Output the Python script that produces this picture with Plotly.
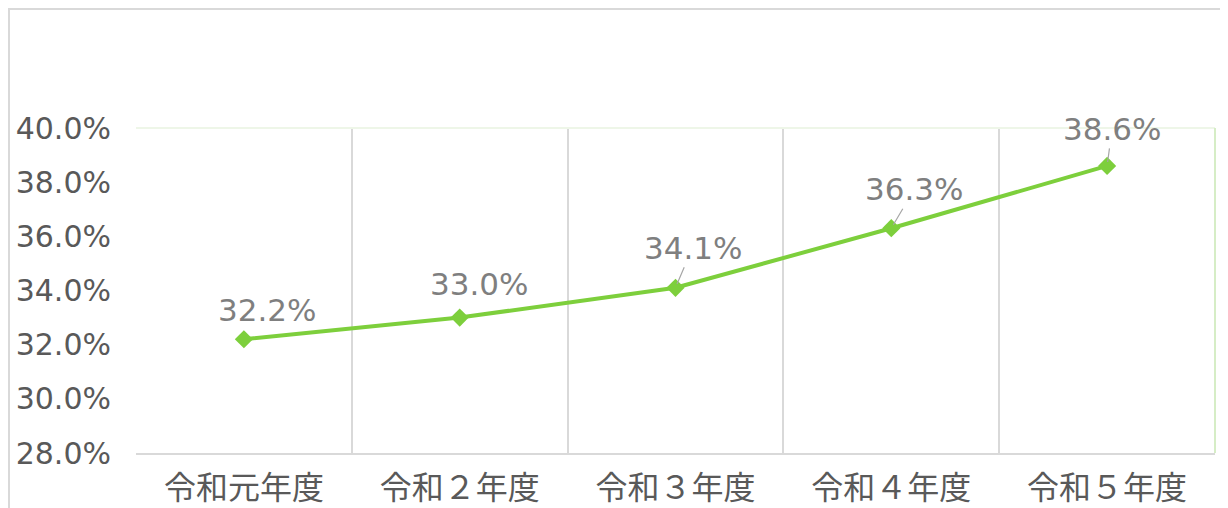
import plotly.graph_objects as go

categories = ["令和元年度", "令和２年度", "令和３年度", "令和４年度", "令和５年度"]
values = [0.322, 0.330, 0.341, 0.363, 0.386]
labels = ["32.2%", "33.0%", "34.1%", "36.3%", "38.6%"]
label_dx = [23, 19, 17, 23, 5]
label_dy = [29, 34, 40, 39, 37]
leader = [False, False, True, True, True]

FONT_CJK = "Noto Sans CJK JP"
FONT_NUM = "DejaVu Sans"
GREEN = "#7dcf3c"

fig = go.Figure()
fig.add_trace(go.Scatter(
    x=categories, y=values, mode="lines+markers",
    line=dict(color=GREEN, width=4),
    marker=dict(symbol="diamond", size=14, color=GREEN),
    hoverinfo="skip", showlegend=False,
))

for c, v, t, dx, dy, ld in zip(categories, values, labels, label_dx, label_dy, leader):
    if ld:
        fig.add_annotation(x=c, y=v, text=t, showarrow=True, ax=dx, ay=-dy,
                           arrowhead=0, arrowwidth=1.2, arrowcolor="#a6a6a6",
                           standoff=4, font=dict(family=FONT_NUM, size=31, color="#7f7f7f"))
    else:
        fig.add_annotation(x=c, y=v, text=t, showarrow=False, xshift=dx, yshift=dy,
                           font=dict(family=FONT_NUM, size=31, color="#7f7f7f"))

# page body has an 8px default margin; compensate
OFF = 8
W, H = 1228, 508
L, T = 136 - OFF, 128 - OFF
R = W - (1215 - OFF)
B = H - (453 - OFF)
pw, ph = W - L - R, H - T - B

shapes = [
    # outer chart border
    dict(type="rect", xref="paper", yref="paper",
         x0=(9 - OFF - L) / pw, x1=(W + 20 - L) / pw,
         y0=(H - B - (H + 20)) / ph, y1=(H - B - (9 - OFF)) / ph,
         line=dict(color="#d9d9d9", width=2), layer="below"),
    # plot area top & right faint green edges
    dict(type="line", xref="paper", yref="paper", x0=0, x1=1, y0=1, y1=1,
         line=dict(color="#eef6e8", width=2)),
    dict(type="line", xref="paper", yref="paper", x0=1, x1=1, y0=0, y1=1,
         line=dict(color="#d6edc6", width=2)),
]

fig.update_layout(
    width=W, height=H,
    margin=dict(l=L, r=R, t=T, b=B, autoexpand=False),
    paper_bgcolor="white", plot_bgcolor="white",
    shapes=shapes,
    xaxis=dict(
        type="category", tickson="boundaries", showgrid=True,
        gridcolor="#d9d9d9", gridwidth=2,
        showline=True, linecolor="#d9d9d9", linewidth=2,
        ticks="", ticklen=0, automargin=False, ticklabelstandoff=6,
        tickfont=dict(family=FONT_CJK, size=32, color="#595959"),
        range=[-0.5, 4.5], zeroline=False,
    ),
    yaxis=dict(
        range=[0.28, 0.40], dtick=0.02, tick0=0.28, tickformat=".1%",
        showgrid=False, zeroline=False,
        showline=False, automargin=False,
        tickfont=dict(family=FONT_NUM, size=30, color="#595959"),
        ticks="", ticklabelstandoff=24,
    ),
)

fig.write_html("out.html")
